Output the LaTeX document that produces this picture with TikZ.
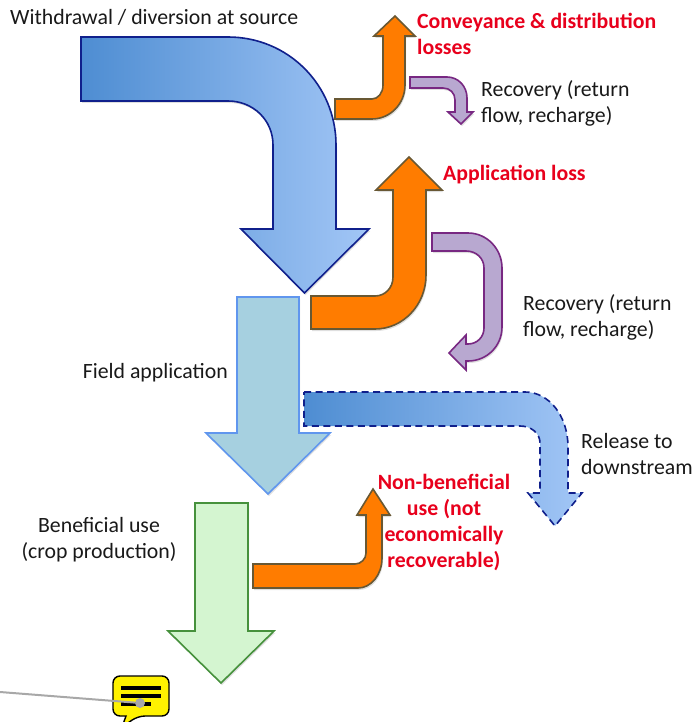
\documentclass[tikz,border=0pt]{standalone}
\usepackage{xcolor}
\usepackage{fontspec}
\setmainfont{Carlito}
\usetikzlibrary{positioning,shadows}

\definecolor{bigleft}{RGB}{78,141,210}
\definecolor{bigright}{RGB}{162,198,246}
\definecolor{bigline}{RGB}{16,32,140}
\definecolor{lossfill}{RGB}{255,124,0}
\definecolor{lossline}{RGB}{104,88,52}
\definecolor{recfill}{RGB}{184,168,208}
\definecolor{recline}{RGB}{120,40,130}
\definecolor{fieldfill}{RGB}{166,208,224}
\definecolor{fieldline}{RGB}{96,150,238}
\definecolor{cropfill}{RGB}{212,245,208}
\definecolor{cropline}{RGB}{70,145,60}
\definecolor{notegrey}{RGB}{168,168,168}
\definecolor{lossred}{RGB}{232,0,28}

\tikzset{
    softshadow/.style={drop shadow={opacity=0.25, shadow xshift=1pt, shadow yshift=-2pt}},
    bigflow/.style={draw=bigline, line width=1.6pt, line join=miter, left color=bigleft, right color=bigright, softshadow},
    lossflow/.style={draw=lossline, line width=1.6pt, fill=lossfill, softshadow},
    recflow/.style={draw=recline, line width=1.6pt, fill=recfill, softshadow},
    fieldflow/.style={draw=fieldline, line width=1.6pt, fill=fieldfill, softshadow},
    cropflow/.style={draw=cropline, line width=1.6pt, fill=cropfill, softshadow},
    releaseflow/.style={draw=bigline, line width=1.6pt, dash pattern=on 7pt off 4.5pt, left color=bigleft, right color=bigright},
    lbl/.style={inner sep=0pt, text=black!90, font=\fontsize{21.8}{26}\selectfont, align=left},
    losslbl/.style={lbl, text=lossred, font=\fontsize{21.8}{26}\selectfont\bfseries},
}

\begin{document}
\begin{tikzpicture}[x=1pt, y=-1pt]
        \useasboundingbox (0,0) rectangle (693,722);
        \clip (0,0) rectangle (693,722);

        % withdrawal
        \path[bigflow] (81,37) -- (228,37) .. controls (288,37) and (336,85) .. (336,145)
            -- (336,229) -- (369,229) -- (304.5,293) -- (241,229) -- (273,229) -- (273,145)
            .. controls (273,120) and (253,101) .. (228,101) -- (81,101) -- cycle;

        % conveyance loss and its recovery
        \path[lossflow] (335,99) -- (372,99) .. controls (378,99) and (383,93) .. (383,85)
            -- (383,36) -- (374,36) -- (395,16) -- (415,36) -- (405,36) -- (405,85)
            .. controls (405,104) and (390,119) .. (372,119) -- (335,119) -- cycle;
        \path[recflow] (410,77) -- (447,77) .. controls (458,77) and (467,86) .. (467,98)
            -- (467,112) -- (473,112) -- (461,124) -- (448,112) -- (455,112) -- (455,100)
            .. controls (455,93) and (450,88) .. (443,88) -- (410,88) -- cycle;

        % application loss and its recovery
        \path[lossflow] (311,296) -- (375,296) .. controls (385,296) and (393,288) .. (393,277)
            -- (393,190) -- (376,190) -- (409,157) -- (442,190) -- (426,190) -- (426,275)
            .. controls (426,305) and (403,329) .. (375,329) -- (311,329) -- cycle;
        \path[recflow] (432,233) -- (468,233) .. controls (487,233) and (502,249) .. (502,268)
            -- (502,327) .. controls (502,346) and (487,361) .. (468,361) -- (466,361) -- (466,370)
            -- (449,353) -- (466,335) -- (466,344) -- (468,344) .. controls (477,344) and (484,337) .. (484,328)
            -- (484,268) .. controls (484,258) and (476,251) .. (466,251) -- (432,251) -- cycle;

        % field application
        \path[fieldflow] (237,297) -- (299,297) -- (299,433) -- (330,433) -- (268,494)
            -- (206,433) -- (237,433) -- cycle;

        % release
        \path[releaseflow] (304,392) -- (525,392) .. controls (549,392) and (568,416) .. (568,447)
            -- (568,493) -- (582,493) -- (555,526) -- (528,493) -- (540,493) -- (540,443)
            .. controls (540,433) and (531,426) .. (520,426) -- (304,426) -- cycle;

        % beneficial use
        \path[cropflow] (195,503) -- (248,503) -- (248,631) -- (274,631) -- (221,683)
            -- (168,631) -- (195,631) -- cycle;

        % non-beneficial
        \path[lossflow] (253,564) -- (355,564) .. controls (361,564) and (366,559) .. (366,553)
            -- (366,515) -- (357,515) -- (373,489) -- (390,515) -- (382,515) -- (382,558)
            .. controls (382,575) and (371,588) .. (358,588) -- (253,588) -- cycle;

        % labels
        \node[lbl, anchor=west] (source) at (10,17) {Withdrawal / diversion at source};
        \node[losslbl, anchor=west] (conveyance) at (417,34) {Conveyance \& distribution\\losses};
        \node[lbl, anchor=west] (recoverya) at (481,103) {Recovery (return\\flow, recharge)};
        \node[losslbl, anchor=west] (application) at (443,175) {Application loss};
        \node[lbl, anchor=west] (recoveryb) at (523,317) {Recovery (return\\flow, recharge)};
        \node[lbl, anchor=east] (field) at (228,372.5) {Field application};
        \node[lbl, align=center] (beneficial) at (99,539.5) {Beneficial use\\(crop production)};
        \node[lbl, anchor=west] (release) at (581,454) {Release to\\downstream};
        \node[losslbl, align=center] (nonbeneficial) at (444,522) {Non-beneficial\\use (not\\economically\\recoverable)};

        % note icon
        \path[draw=black, line width=1.4pt, fill=yellow, rounded corners=7pt]
            (113,676) -- (169,676) -- (169,716) -- (138,716) [sharp corners] -- (122,727) -- (126,716) [rounded corners=7pt] -- (113,716) -- cycle;
        \foreach \y/\r in {688/161, 696/161, 704/151}
            \draw[black, line width=3.2pt] (121,\y) -- (\r,\y);
        \coordinate (notestart) at (0,692);
        \node[circle, fill=notegrey, inner sep=0pt, minimum size=10pt] (notedot) at (140,703) {};
        \draw[notegrey, line width=2pt] (notestart) -- (notedot);
\end{tikzpicture}
\end{document}
